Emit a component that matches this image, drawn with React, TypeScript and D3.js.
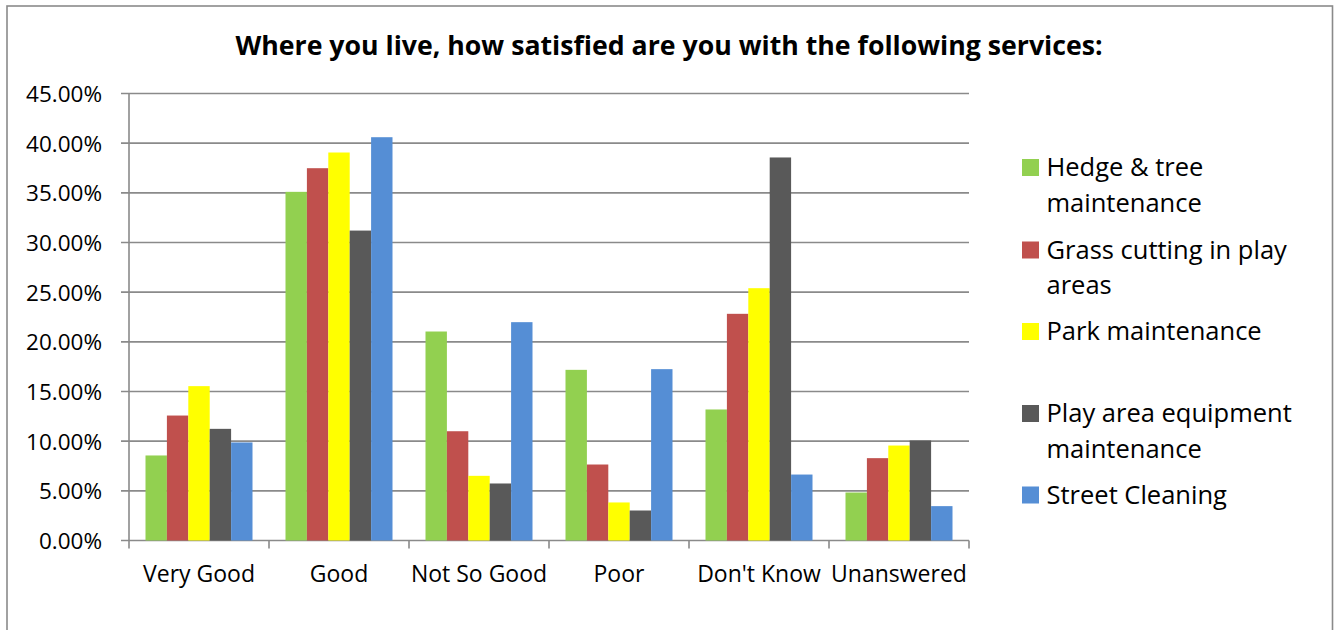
import React from "react";
import * as d3 from "d3";

const categories = ["Very Good", "Good", "Not So Good", "Poor", "Don't Know", "Unanswered"];
const seriesNames = [
  "Hedge & tree maintenance",
  "Grass cutting in play areas",
  "Park maintenance",
  "Play area equipment maintenance",
  "Street Cleaning",
];
const legendLines = [
  ["Hedge & tree", "maintenance"],
  ["Grass cutting in play", "areas"],
  ["Park maintenance"],
  ["Play area equipment", "maintenance"],
  ["Street Cleaning"],
];
const seriesColors = ["#92D050", "#C0504D", "#FFFF00", "#595959", "#558ED5"];

// Percent values per series, in category order
const hedgeTree = [8.56, 35.1, 21.04, 17.18, 13.19, 4.83];
const grassCutting = [12.58, 37.48, 11.0, 7.65, 22.82, 8.29];
const parkMaintenance = [15.54, 39.06, 6.51, 3.83, 25.4, 9.56];
const playEquipment = [11.24, 31.2, 5.74, 3.02, 38.56, 10.07];
const streetCleaning = [9.87, 40.6, 21.98, 17.25, 6.64, 3.46];
const seriesValues = [hedgeTree, grassCutting, parkMaintenance, playEquipment, streetCleaning];

const yTicks = [0, 5, 10, 15, 20, 25, 30, 35, 40, 45];
const title = "Where you live, how satisfied are you with the following services:";

const W = 1340;
const H = 630;
const plot = { left: 129, right: 969, top: 93.5, bottom: 540.5 };
const FONT = "'Open Sans', 'Noto Sans', sans-serif";
const GRID = "#8a8a8a";

export default function App() {
  const x = d3.scaleBand<string>().domain(categories).range([plot.left, plot.right]).padding(0);
  const inner = d3
    .scaleBand<number>()
    .domain(d3.range(seriesNames.length))
    .range([16.5, x.bandwidth() - 16.5])
    .padding(0);
  const y = d3.scaleLinear().domain([0, 45]).range([plot.bottom, plot.top]);

  const legendTop = [176, 258.5, 340, 422, 503.5];

  return (
    <svg
      width={W}
      height={H}
      style={{ position: "absolute", left: 0, top: 0, display: "block", background: "#fff" }}
    >
      <rect x={0} y={0} width={W} height={H} fill="#fff" />
      <rect x={7} y={6} width={1325.5} height={H} fill="#fff" stroke={GRID} strokeWidth={1.6} />

      <text
        x={669}
        y={55}
        textAnchor="middle"
        fontFamily={FONT}
        fontWeight={700}
        fontSize={26.7}
        fill="#000"
      >
        {title}
      </text>

      {/* horizontal gridlines with left ticks */}
      {yTicks.map((t) => (
        <g key={t}>
          <line x1={plot.left - 8} x2={plot.right} y1={y(t)} y2={y(t)} stroke={GRID} strokeWidth={1.6} />
          <text
            x={102}
            y={y(t) + 8.5}
            textAnchor="end"
            fontFamily={FONT}
            fontSize={22.5}
            fill="#000"
          >
            {t.toFixed(2) + "%"}
          </text>
        </g>
      ))}

      {/* bars */}
      {categories.map((c, ci) => (
        <g key={c} transform={`translate(${x(c)},0)`}>
          {seriesValues.map((vals, si) => (
            <rect
              key={si}
              x={inner(si)}
              y={y(vals[ci])}
              width={inner.bandwidth()}
              height={y(0) - y(vals[ci])}
              fill={seriesColors[si]}
            />
          ))}
        </g>
      ))}

      {/* vertical axis */}
      <line x1={plot.left} x2={plot.left} y1={plot.top} y2={plot.bottom} stroke={GRID} strokeWidth={1.6} />
      {/* category ticks */}
      {[...categories.map((c) => x(c) as number), plot.right].map((px, i) => (
        <line key={i} x1={px} x2={px} y1={plot.bottom} y2={plot.bottom + 8} stroke={GRID} strokeWidth={1.6} />
      ))}
      {categories.map((c) => (
        <text
          key={c}
          x={(x(c) as number) + x.bandwidth() / 2}
          y={582}
          textAnchor="middle"
          fontFamily={FONT}
          fontSize={23}
          fill="#000"
        >
          {c}
        </text>
      ))}

      {/* legend */}
      {seriesNames.map((name, i) => (
        <g key={name}>
          <rect x={1022} y={legendTop[i] - 17} width={17} height={17} fill={seriesColors[i]} />
          {legendLines[i].map((ln, li) => (
            <text
              key={li}
              x={1046.5}
              y={legendTop[i] + li * 35.5}
              fontFamily={FONT}
              fontSize={25.5}
              fill="#000"
            >
              {ln}
            </text>
          ))}
        </g>
      ))}
    </svg>
  );
}
